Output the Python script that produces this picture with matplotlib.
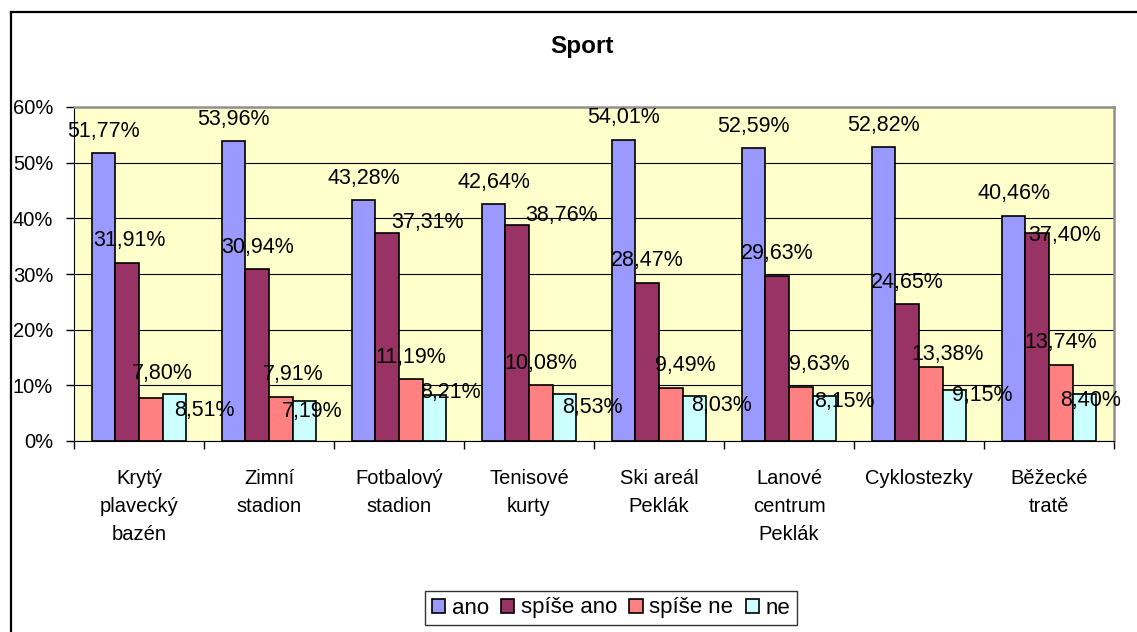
# Sport survey chart - clustered columns, Excel look

import numpy as np
import matplotlib.pyplot as plt
from matplotlib.lines import Line2D

plt.rcParams['font.family'] = ['Liberation Sans', 'DejaVu Sans']

# data to plot
categories = ['Krytý\nplavecký\nbazén', 'Zimní\nstadion', 'Fotbalový\nstadion',
              'Tenisové\nkurty', 'Ski areál\nPeklák', 'Lanové\ncentrum\nPeklák',
              'Cyklostezky', 'Běžecké\ntratě']
series = ['ano', 'spíše ano', 'spíše ne', 'ne']
ano = [51.77, 53.96, 43.28, 42.64, 54.01, 52.59, 52.82, 40.46]
spise_ano = [31.91, 30.94, 37.31, 38.76, 28.47, 29.63, 24.65, 37.40]
spise_ne = [7.80, 7.91, 11.19, 10.08, 9.49, 9.63, 13.38, 13.74]
ne = [8.51, 7.19, 8.21, 8.53, 8.03, 8.15, 9.15, 8.40]
values = [ano, spise_ano, spise_ne, ne]

colors = ['#9999FF', '#993366', '#FF8080', '#CCFFFF']

# label nudges in pixels (label centre relative to top of bar), as placed in the original
label_dx = [[0, 0, 0, 0, 0, 0, 0, 0],
            [2, 0, 40, 44, 0, 0, 0, 27],
            [11, 12, 0, 0, 14, 18, 17, 0],
            [30, 8, 16, 28, 27, 20, 28, 6]]
label_dy = [[24, 24, 24, 24, 25, 24, 24, 25],
            [25, 24, 13, 12, 25, 25, 24, 0],
            [27, 25, 24, 24, 25, 25, 15, 25],
            [-14, -8, 5, -11, -7, -3, -3, -4]]

W, H = 1137, 632
fig = plt.figure(figsize=(W / 100, H / 100), dpi=100)
ax = fig.add_axes([74 / W, 1 - 441 / H, (1114 - 74) / W, (441 - 107) / H])
ax.set_facecolor('#FFFFCC')

index = np.arange(len(categories))
bar_width = 1 / 5.5
fs = 14.5
fs_lab = 15.5

for k, name in enumerate(series):
    pos = index + (k - 1.5) * bar_width
    vals = np.array(values[k]) / 100
    ax.bar(pos, vals, bar_width, color=colors[k], edgecolor='black',
           linewidth=1.2, label=name, zorder=3)
    for i, v in enumerate(vals):
        txt = f"{values[k][i]:.2f}".replace('.', ',') + '%'
        ax.annotate(txt, (pos[i], v), xytext=(label_dx[k][i], label_dy[k][i] - 8),
                    textcoords='offset pixels', ha='center', va='baseline',
                    fontsize=fs_lab, zorder=5, annotation_clip=False)

ax.set_xlim(-0.5, len(categories) - 0.5)
ax.set_ylim(0, 0.6)
ax.set_yticks(np.arange(0, 0.61, 0.1))
ax.set_yticklabels([f"{int(round(t * 100))}%" for t in np.arange(0, 0.61, 0.1)], fontsize=fs)
ax.yaxis.grid(True, color='black', linewidth=0.8, zorder=0)
ax.set_axisbelow(True)

ax.set_xticks(index)
ax.set_xticklabels(categories, fontsize=fs, linespacing=1.6)
ax.set_xticks(np.arange(-0.5, len(categories)), minor=True)
ax.tick_params(axis='x', which='major', length=0, pad=20)
ax.tick_params(axis='x', which='minor', length=6, width=1, direction='out')
ax.tick_params(axis='y', length=6, width=1, pad=9)

ax.spines['left'].set_color('black')
ax.spines['bottom'].set_color('black')
for s in ['top', 'right']:
    ax.spines[s].set_color('#909090')
    ax.spines[s].set_linewidth(1.8)

fig.text(582 / W, 1 - 46 / H, 'Sport', ha='center', va='center',
         fontsize=17.5, fontweight='bold')

leg = fig.legend(loc='center', bbox_to_anchor=(611 / W, 1 - 608 / H), ncol=4,
                 fontsize=16, frameon=True, fancybox=False, edgecolor='black',
                 handlelength=0.6, handleheight=0.6, handletextpad=0.3,
                 columnspacing=0.55, borderpad=0.3, borderaxespad=0)
leg.get_frame().set_linewidth(1.0)

# outer chart frame (left and top edges visible)
fig.add_artist(Line2D([10.5 / W, 10.5 / W], [0, 1 - 11.5 / H], transform=fig.transFigure,
                      color='black', linewidth=1.6))
fig.add_artist(Line2D([10.5 / W, 1], [1 - 11.5 / H, 1 - 11.5 / H], transform=fig.transFigure,
                      color='black', linewidth=1.6))

fig.savefig('out.png', dpi=100)
